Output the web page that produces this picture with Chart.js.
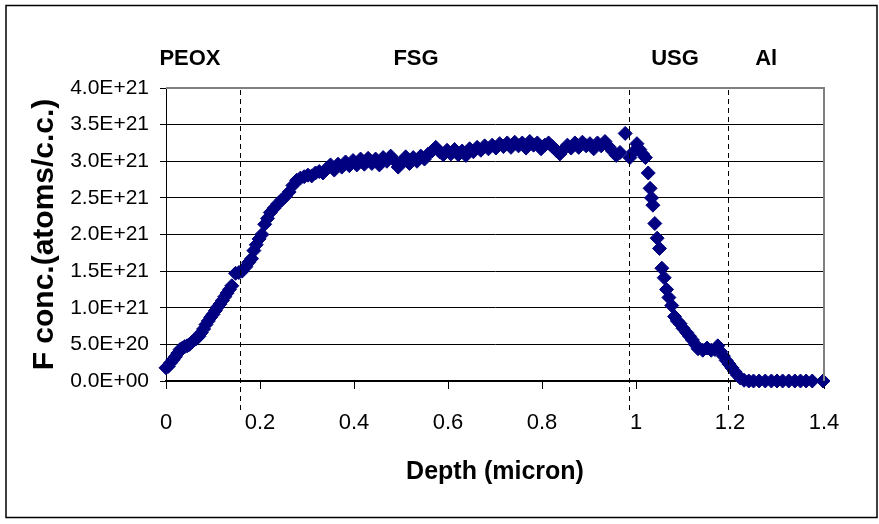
<!DOCTYPE html>
<html>
<head>
<meta charset="utf-8">
<script src="https://cdn.jsdelivr.net/npm/chart.js@4/dist/chart.umd.min.js"></script>
<style>
  body { margin: 0; background: #fff; }
  canvas { display: block; }
</style>
</head>
<body>
<canvas id="myChart" width="879" height="524"></canvas>
<script>
// depth in micron
var depth = [
  0.000, 0.005, 0.010, 0.015, 0.020, 0.025, 0.030, 0.035, 0.040, 0.045,
  0.050, 0.055, 0.060, 0.065, 0.070, 0.075, 0.080, 0.085, 0.090, 0.095,
  0.100, 0.105, 0.110, 0.115, 0.120, 0.125, 0.130, 0.135, 0.140, 0.148,
  0.155, 0.162, 0.170, 0.176, 0.182, 0.187, 0.192, 0.198, 0.204, 0.210,
  0.216, 0.222, 0.230, 0.238, 0.246, 0.254, 0.262, 0.270, 0.278, 0.286,
  0.294, 0.302, 0.310, 0.318, 0.326, 0.334, 0.342, 0.350, 0.358, 0.366,
  0.374, 0.382, 0.390, 0.398, 0.406, 0.414, 0.422, 0.430, 0.438, 0.446,
  0.454, 0.462, 0.470, 0.478, 0.486, 0.494, 0.502, 0.510, 0.518, 0.526,
  0.534, 0.542, 0.550, 0.558, 0.566, 0.574, 0.582, 0.590, 0.598, 0.606,
  0.614, 0.622, 0.630, 0.638, 0.646, 0.654, 0.662, 0.670, 0.678, 0.686,
  0.694, 0.702, 0.710, 0.718, 0.726, 0.734, 0.742, 0.750, 0.758, 0.766,
  0.774, 0.782, 0.790, 0.798, 0.806, 0.814, 0.822, 0.830, 0.838, 0.846,
  0.854, 0.862, 0.870, 0.878, 0.886, 0.894, 0.902, 0.910, 0.918, 0.926,
  0.934, 0.942, 0.950, 0.958, 0.966, 0.977, 0.987, 0.995, 1.002, 1.008,
  1.014, 1.020, 1.026, 1.030, 1.033, 1.036, 1.040, 1.045, 1.050, 1.055,
  1.060, 1.065, 1.070, 1.076, 1.082, 1.088, 1.094, 1.100, 1.108, 1.114,
  1.120, 1.126, 1.132, 1.142, 1.151, 1.160, 1.168, 1.174, 1.180, 1.186,
  1.192, 1.198, 1.204, 1.210, 1.216, 1.222, 1.230, 1.240, 1.250, 1.262,
  1.275, 1.288, 1.300, 1.312, 1.325, 1.338, 1.350, 1.362, 1.375, 1.398
];
// F concentration, in units of 1E+21 atoms/c.c.
var fConc = [
  0.18, 0.20, 0.25, 0.29, 0.33, 0.38, 0.43, 0.45, 0.47, 0.48,
  0.50, 0.53, 0.56, 0.58, 0.61, 0.66, 0.71, 0.77, 0.82, 0.87,
  0.91, 0.96, 1.01, 1.05, 1.10, 1.15, 1.20, 1.25, 1.30, 1.47,
  1.48, 1.50, 1.56, 1.62, 1.67, 1.78, 1.86, 1.94, 2.00, 2.14,
  2.22, 2.30, 2.36, 2.42, 2.47, 2.52, 2.58, 2.67, 2.74, 2.77,
  2.79, 2.81, 2.80, 2.84, 2.86, 2.84, 2.90, 2.95, 2.88, 2.96,
  2.92, 2.99, 2.94, 3.01, 2.95, 3.03, 2.96, 3.04, 2.97, 3.03,
  2.95, 3.05, 3.00, 3.07, 3.01, 2.92, 2.99, 3.06, 2.97, 3.05,
  3.00, 3.07, 3.03, 3.10, 3.14, 3.19, 3.13, 3.09, 3.15, 3.10,
  3.16, 3.09, 3.14, 3.08, 3.17, 3.13, 3.19, 3.15, 3.21, 3.17,
  3.22, 3.18, 3.24, 3.20, 3.25, 3.19, 3.26, 3.21, 3.25, 3.18,
  3.27, 3.22, 3.25, 3.17, 3.22, 3.25, 3.20, 3.15, 3.10, 3.16,
  3.22, 3.18, 3.25, 3.19, 3.26, 3.21, 3.24, 3.17, 3.25, 3.21,
  3.27, 3.20, 3.14, 3.08, 3.12, 3.38, 3.05, 3.13, 3.24, 3.16,
  3.10, 3.05, 2.84, 2.63, 2.50, 2.40, 2.15, 1.95, 1.81, 1.54,
  1.41, 1.25, 1.14, 1.03, 0.88, 0.82, 0.78, 0.72, 0.66, 0.61,
  0.56, 0.50, 0.44, 0.42, 0.45, 0.42, 0.43, 0.48, 0.40, 0.34,
  0.28, 0.23, 0.18, 0.13, 0.08, 0.04, 0.01, 0, 0, 0,
  0, 0, 0, 0, 0, 0, 0, 0, 0, 0
];

var xTicks = [0, 0.2, 0.4, 0.6, 0.8, 1, 1.2, 1.4];
var xTickLabels = ["0", "0.2", "0.4", "0.6", "0.8", "1", "1.2", "1.4"];
var yTickLabels = ["0.0E+00", "5.0E+20", "1.0E+21", "1.5E+21", "2.0E+21",
                   "2.5E+21", "3.0E+21", "3.5E+21", "4.0E+21"];

// layer names and where the boundaries sit (micron)
var layerNames = ["PEOX", "FSG", "USG", "Al"];
var layerLabelDepth = [0.051, 0.532, 1.083, 1.277];
var layerBounds = [0.158, 0.986, 1.196];

var FONT = "'Liberation Sans', Arial, sans-serif";

var points = [];
for (var i = 0; i < depth.length; i++) {
    points.push({x: depth[i], y: fConc[i]});
}

//draws the layer lines, names and the frames
var layerPlugin = {
    id: "layers",
    afterDraw: function(chart) {
        var c = chart.ctx;
        var a = chart.chartArea;
        var xs = chart.scales.x;
        c.save();

        c.strokeStyle = "#808080";
        c.lineWidth = 2;
        c.beginPath();
        c.moveTo(a.left, a.top);
        c.lineTo(a.right, a.top);
        c.lineTo(a.right, a.bottom);
        c.stroke();

        c.strokeStyle = "#000";
        c.lineWidth = 1;
        c.setLineDash([5, 4]);
        layerBounds.forEach(function(d) {
            var px = Math.round(xs.getPixelForValue(d)) + 0.5;
            c.beginPath();
            c.moveTo(px, a.top + 2);
            c.lineTo(px, 414);
            c.stroke();
        });
        c.setLineDash([]);

        c.fillStyle = "#000";
        c.font = "bold 22px " + FONT;
        c.textAlign = "center";
        c.textBaseline = "middle";
        layerNames.forEach(function(name, i) {
            c.fillText(name, xs.getPixelForValue(layerLabelDepth[i]), 59);
        });

        c.lineWidth = 1.5;
        c.strokeRect(6, 5.5, 871, 512);
        c.restore();
    }
};

var myChart = document.getElementById("myChart").getContext("2d");
var chart = new Chart(myChart, {
    type: "scatter",
    data: {
        datasets: [{
            label: "F",
            data: points,
            clip: false,
            pointStyle: "rectRot",
            pointRadius: 7,
            pointHoverRadius: 7,
            backgroundColor: "#000080",
            borderColor: "#000080",
            borderWidth: 1
        }]
    },
    options: {
        responsive: false,
        animation: false,
        layout: {
            padding: {left: 0, top: 88, right: 55, bottom: 0}
        },
        plugins: {
            legend: {display: false},
            tooltip: {enabled: false}
        },
        scales: {
            x: {
                type: "linear",
                min: 0,
                max: 1.4,
                afterBuildTicks: function(scale) {
                    scale.ticks = xTicks.map(function(v) { return {value: v}; });
                },
                afterFit: function(scale) { scale.height = 143; },
                ticks: {
                    autoSkip: false,
                    maxRotation: 0,
                    padding: 21,
                    color: "#000",
                    font: {family: FONT, size: 22},
                    callback: function(v, i) { return xTickLabels[i]; }
                },
                grid: {
                    drawOnChartArea: false,
                    drawTicks: true,
                    tickLength: 8,
                    color: "#000"
                },
                border: {color: "#000", width: 2},
                title: {
                    display: true,
                    text: "Depth (micron)",
                    color: "#000",
                    font: {family: FONT, size: 25, weight: "bold"},
                    padding: {top: 0, bottom: 37}
                }
            },
            y: {
                min: 0,
                max: 4,
                afterFit: function(scale) { scale.width = 166; },
                ticks: {
                    stepSize: 0.5,
                    padding: 11,
                    color: "#000",
                    font: {family: FONT, size: 21},
                    callback: function(v, i) { return yTickLabels[i]; }
                },
                grid: {
                    color: function(ctx) {
                        return ctx.tick && ctx.tick.value === 4 ? "#808080" : "#000";
                    },
                    tickColor: "#000",
                    lineWidth: 1,
                    tickLength: 6
                },
                border: {color: "#000", width: 1},
                title: {
                    display: true,
                    text: "F conc.(atoms/c.c.)",
                    color: "#000",
                    font: {family: FONT, size: 30, weight: "bold"},
                    padding: {top: 27, bottom: 0}
                }
            }
        }
    },
    plugins: [layerPlugin]
});
</script>
</body>
</html>
